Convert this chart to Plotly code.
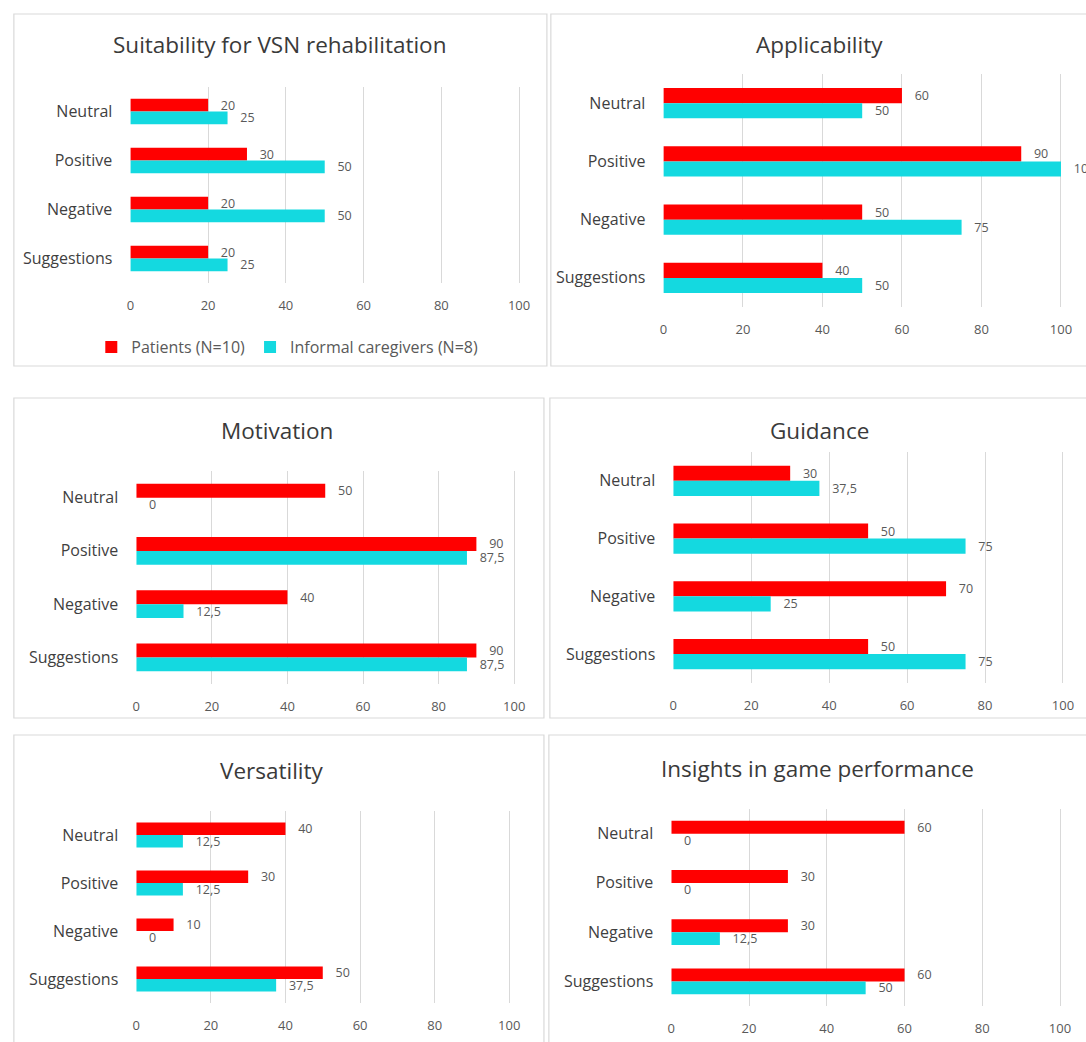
import plotly.graph_objects as go

# ---------------- data ----------------
categories = ["Neutral", "Positive", "Negative", "Suggestions"]
x_ticks = [0, 20, 40, 60, 80, 100]
series_names = ["Patients (N=10)", "Informal caregivers (N=8)"]

titles = [
    "Suitability for VSN rehabilitation",
    "Applicability",
    "Motivation",
    "Guidance",
    "Versatility",
    "Insights in game performance",
]

patients_suitability = [20, 30, 20, 20]
caregivers_suitability = [25, 50, 50, 25]

patients_applicability = [60, 90, 50, 40]
caregivers_applicability = [50, 100, 75, 50]

patients_motivation = [50, 90, 40, 90]
caregivers_motivation = [0, 87.5, 12.5, 87.5]

patients_guidance = [30, 50, 70, 50]
caregivers_guidance = [37.5, 75, 25, 75]

patients_versatility = [40, 30, 10, 50]
caregivers_versatility = [12.5, 12.5, 0, 37.5]

patients_insights = [60, 30, 30, 60]
caregivers_insights = [0, 0, 12.5, 50]

patients_all = [patients_suitability, patients_applicability, patients_motivation,
                patients_guidance, patients_versatility, patients_insights]
caregivers_all = [caregivers_suitability, caregivers_applicability, caregivers_motivation,
                  caregivers_guidance, caregivers_versatility, caregivers_insights]

# ---------------- layout (pixels) ----------------
W, H = 1086, 1042
RED = "#FF0000"
CYAN = "#14D9E0"
GRID = "#D9D9D9"
FONT = "Open Sans"

# plot area (x0, x1, y0, y1), border box (x0, x1, y0, y1), title center (x, y)
panels = [
    dict(plot=(128, 523, 87, 283), box=(10, 550, 14, 366), title=(279, 45)),
    dict(plot=(668, 1072, 74, 307), box=(554, 1100, 14, 366), title=(826, 45)),
    dict(plot=(134, 518, 471, 684), box=(10, 547, 398, 718), title=(277, 430)),
    dict(plot=(678, 1074, 452, 683), box=(553, 1100, 398, 718), title=(826, 430)),
    dict(plot=(134, 513, 811, 1003), box=(10, 547, 735, 1060), title=(271, 770)),
    dict(plot=(676, 1071, 809, 1006), box=(552, 1100, 735, 1060), title=(824, 768)),
]


def fx(v):
    return v / W


def fy(v):
    return 1 - v / H


def label(vals):
    return ["\u00a0\u00a0\u00a0" + f"{v:g}".replace(".", ",") for v in vals]


fig = go.Figure()
shapes = []
annotations = []

for i, p in enumerate(panels):
    n = i + 1
    sfx = "" if n == 1 else str(n)
    xa, ya = "x" + sfx, "y" + sfx
    for vals, name, color, grp in [
        (patients_all[i], series_names[0], RED, "p"),
        (caregivers_all[i], series_names[1], CYAN, "c"),
    ]:
        fig.add_trace(go.Bar(
            y=categories, x=vals, orientation="h", name=name,
            marker=dict(color=color, line=dict(width=0)),
            text=label(vals), textposition="outside", cliponaxis=False,
            constraintext="none",
            textfont=dict(family=FONT, size=12.5, color="#595959"),
            xaxis=xa, yaxis=ya, showlegend=(n == 1), legendgroup=grp,
            hoverinfo="skip",
        ))
    x0, x1, y0, y1 = p["plot"]
    fig.layout["xaxis" + sfx] = dict(
        domain=[fx(x0), fx(x1)], range=[0, 100.3], tickvals=x_ticks,
        showgrid=True, gridcolor=GRID, gridwidth=1, zeroline=False, showline=False,
        anchor=ya, ticks="", ticklabelstandoff=13,
        tickfont=dict(family=FONT, size=13, color="#595959"), fixedrange=True,
    )
    fig.layout["yaxis" + sfx] = dict(
        domain=[fy(y1), fy(y0)], range=[3.5, -0.5], type="category",
        categoryorder="array", categoryarray=categories,
        showgrid=False, zeroline=False, showline=False, anchor=xa, ticks="",
        ticklabelstandoff=17,
        tickfont=dict(family=FONT, size=16, color="#3F3F3F"), fixedrange=True,
    )
    bx0, bx1, by0, by1 = p["box"]
    shapes.append(dict(type="rect", xref="paper", yref="paper",
                       x0=fx(bx0), x1=fx(bx1), y0=fy(by1), y1=fy(by0),
                       line=dict(color=GRID, width=1.2), fillcolor="rgba(0,0,0,0)",
                       layer="below"))
    tx, ty = p["title"]
    annotations.append(dict(text=titles[i], xref="paper", yref="paper",
                            x=fx(tx), y=fy(ty), xanchor="center", yanchor="middle",
                            showarrow=False,
                            font=dict(family=FONT, size=22.5, color="#3A3A3A")))

fig.update_layout(
    width=W, height=H, margin=dict(l=0, r=0, t=0, b=0),
    paper_bgcolor="white", plot_bgcolor="white",
    barmode="group", bargap=0.48, bargroupgap=0,
    shapes=shapes, annotations=annotations,
    font=dict(family=FONT),
    legend=dict(orientation="h", x=fx(287), xanchor="center", y=fy(347), yanchor="middle",
                font=dict(family=FONT, size=16, color="#595959"),
                bgcolor="rgba(0,0,0,0)", itemwidth=30, traceorder="normal"),
)

fig.write_html("out.html")
